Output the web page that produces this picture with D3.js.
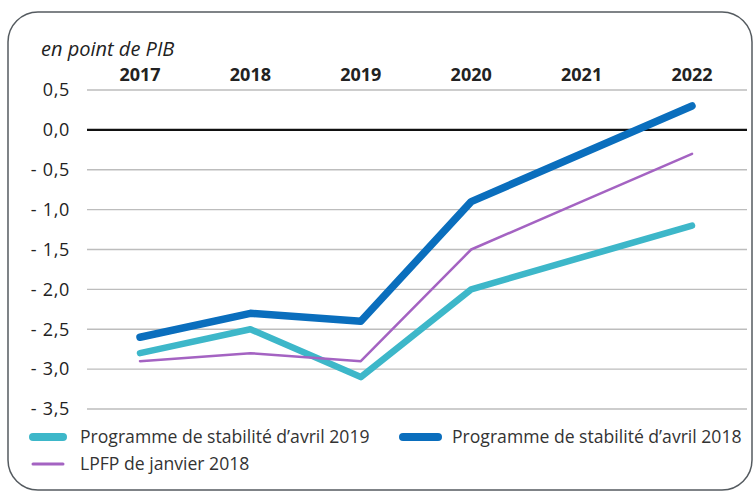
<!DOCTYPE html>
<html>
<head>
<meta charset="utf-8">
<script src="https://cdn.jsdelivr.net/npm/d3@7"></script>
<style>
  body { margin: 0; background: #fff; }
  svg { font-family: "Open Sans", "Noto Sans", sans-serif; }
</style>
</head>
<body>
<div class="chart"></div>
<script>
// données en point de PIB
const years = [2017, 2018, 2019, 2020, 2021, 2022];
const ps2019 = [-2.8, -2.5, -3.1, -2.0, -1.6, -1.2];
const ps2018 = [-2.6, -2.3, -2.4, -0.9, -0.3, 0.3];
const lpfp2018 = [-2.9, -2.8, -2.9, -1.5, -0.9, -0.3];
const yTicks = [0.5, 0, -0.5, -1, -1.5, -2, -2.5, -3, -3.5];

const series = [
    {name: "Programme de stabilité d’avril 2019", values: ps2019, color: "#3db7c9", width: 6.5},
    {name: "LPFP de janvier 2018", values: lpfp2018, color: "#a463c2", width: 2.5},
    {name: "Programme de stabilité d’avril 2018", values: ps2018, color: "#0a6ebd", width: 7.5}
];

const W = 756, H = 494;
const svg = d3.select('.chart').append('svg').attr('width', W).attr('height', H);

// cadre arrondi
svg.append('rect')
    .attr('x', 8).attr('y', 12)
    .attr('width', 744).attr('height', 478)
    .attr('rx', 30)
    .attr('fill', 'none')
    .attr('stroke', '#555b60')
    .attr('stroke-width', 1.5);

const xScale = d3.scalePoint().domain(years).range([140, 692]);
const yScale = d3.scaleLinear().domain([-3.5, 0.5]).range([409, 90]);

const fmt = v => {
    const s = d3.format(".1f")(Math.abs(v)).replace('.', ',');
    return v < 0 ? '- ' + s : s;
};

// grille
svg.append('g').selectAll('line')
    .data(yTicks)
    .enter().append('line')
    .attr('x1', 87).attr('x2', 747)
    .attr('y1', d => yScale(d)).attr('y2', d => yScale(d))
    .attr('stroke', d => d === 0 ? '#111' : '#bdbdbd')
    .attr('stroke-width', d => d === 0 ? 2.2 : 1.4);

svg.append('g').selectAll('text')
    .data(yTicks)
    .enter().append('text')
    .attr('x', 70)
    .attr('y', d => yScale(d))
    .attr('dy', '0.35em')
    .attr('text-anchor', 'end')
    .attr('font-size', 18)
    .attr('letter-spacing', 0.7)
    .attr('fill', '#222')
    .text(fmt);

// années en haut
svg.append('g').selectAll('text')
    .data(years)
    .enter().append('text')
    .attr('x', d => xScale(d))
    .attr('y', 81)
    .attr('text-anchor', 'middle')
    .attr('font-size', 18)
    .attr('font-weight', 'bold')
    .attr('fill', '#222')
    .text(d => d);

svg.append('text')
    .attr('x', 41).attr('y', 56)
    .attr('font-size', 20)
    .attr('font-style', 'italic')
    .attr('fill', '#222')
    .text('en point de PIB');

const line = d3.line()
    .x((d, i) => xScale(years[i]))
    .y(d => yScale(d));

svg.append('g').selectAll('path')
    .data(series)
    .enter().append('path')
    .attr('d', d => line(d.values))
    .attr('fill', 'none')
    .attr('stroke', d => d.color)
    .attr('stroke-width', d => d.width)
    .attr('stroke-linecap', 'round')
    .attr('stroke-linejoin', 'round');

// légende
const legendPos = [[30, 437], [30, 464], [400, 437]];
const legend = svg.selectAll('.legend')
    .data(series)
    .enter().append('g')
    .attr('transform', (d, i) => `translate(${legendPos[i][0]},${legendPos[i][1]})`);

legend.append('line')
    .attr('x1', 3).attr('x2', d => d.width > 7 ? 38 : 33)
    .attr('y1', 0).attr('y2', 0)
    .attr('stroke', d => d.color)
    .attr('stroke-width', d => d.width > 3 ? 8 : 3)
    .attr('stroke-linecap', 'round');

legend.append('text')
    .attr('x', d => d.width > 7 ? 52 : 50)
    .attr('y', 0)
    .attr('dy', '0.35em')
    .attr('font-size', 17.6)
    .attr('fill', '#333')
    .text(d => d.name);
</script>
</body>
</html>
